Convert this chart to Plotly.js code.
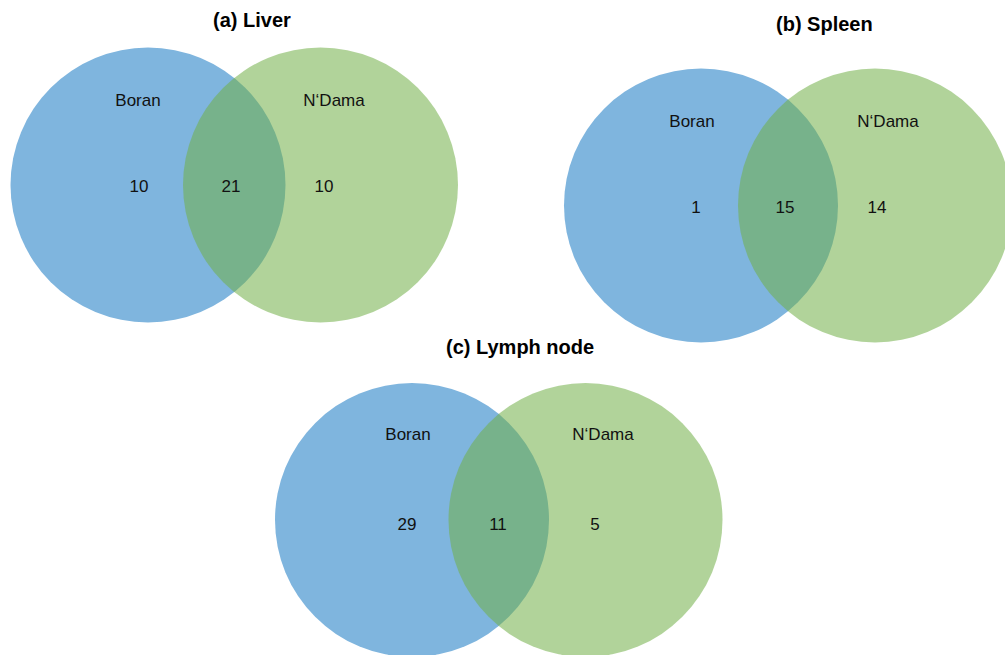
<!DOCTYPE html>
<html>
<head>
<meta charset="utf-8">
<script src="https://cdn.plot.ly/plotly-3.0.1.min.js"></script>
<style>html,body{margin:0;padding:0;background:#fff;}#chart{width:1005px;height:655px;}</style>
</head>
<body>
<div id="chart"></div>
<script>
// ---- data ----
const panelTitles = ['(a) Liver', '(b) Spleen', '(c) Lymph node'];
const setNames = ['Boran', 'N\u2018Dama'];
const onlyBoran = [10, 1, 29];
const shared = [21, 15, 11];
const onlyNDama = [10, 14, 5];

// ---- layout geometry (pixel space) ----
const geom = [
  {bx: 148, gx: 320.5, cy: 185, r: 137.5, tx: 252, ty: 20,  lab: [138, 334], num: [139, 231, 324], ly: 102, ny: 188},
  {bx: 701, gx: 875,   cy: 205.5, r: 137, tx: 824, ty: 24,  lab: [692, 888], num: [696, 785, 877], ly: 123, ny: 209},
  {bx: 412, gx: 585.5, cy: 520, r: 137, tx: 520, ty: 347, lab: [408, 603], num: [407, 498, 595], ly: 436, ny: 526}
];
const blue = '#7fb5de';
const green = 'rgba(113,175,71,0.55)';

const shapes = [];
const annotations = [];
const font = {family: 'Liberation Sans, Arial, sans-serif', size: 17, color: '#111'};
geom.forEach((g, i) => {
  shapes.push({type: 'circle', xref: 'x', yref: 'y', x0: g.bx - g.r, x1: g.bx + g.r, y0: g.cy - g.r, y1: g.cy + g.r,
    fillcolor: blue, line: {width: 0}, layer: 'below'});
  shapes.push({type: 'circle', xref: 'x', yref: 'y', x0: g.gx - g.r, x1: g.gx + g.r, y0: g.cy - g.r, y1: g.cy + g.r,
    fillcolor: green, line: {width: 0}, layer: 'below'});
  annotations.push({x: g.tx, y: g.ty, text: '<b>' + panelTitles[i] + '</b>', showarrow: false,
    font: {family: 'Liberation Sans, Arial, sans-serif', size: 20, color: '#000'}, xanchor: 'center', yanchor: 'middle'});
});

const textX = [], textY = [], textS = [];
geom.forEach((g, i) => {
  textX.push(g.lab[0], g.lab[1]); textY.push(g.ly, g.ly); textS.push(setNames[0], setNames[1]);
  const vals = [onlyBoran[i], shared[i], onlyNDama[i]];
  vals.forEach((v, k) => { textX.push(g.num[k]); textY.push(g.ny); textS.push(String(v)); });
});

const traces = [{
  type: 'scatter', mode: 'text', x: textX, y: textY, text: textS,
  textfont: font, textposition: 'middle center', hoverinfo: 'skip', showlegend: false
}];

const layout = {
  width: 1005, height: 655,
  margin: {l: 0, r: 0, t: 0, b: 0},
  paper_bgcolor: '#fff', plot_bgcolor: '#fff',
  xaxis: {range: [0, 1005], visible: false, fixedrange: true},
  yaxis: {range: [655, 0], visible: false, fixedrange: true},
  shapes: shapes,
  annotations: annotations,
  showlegend: false
};
Plotly.newPlot('chart', traces, layout, {staticPlot: true, displayModeBar: false});
</script>
</body>
</html>
